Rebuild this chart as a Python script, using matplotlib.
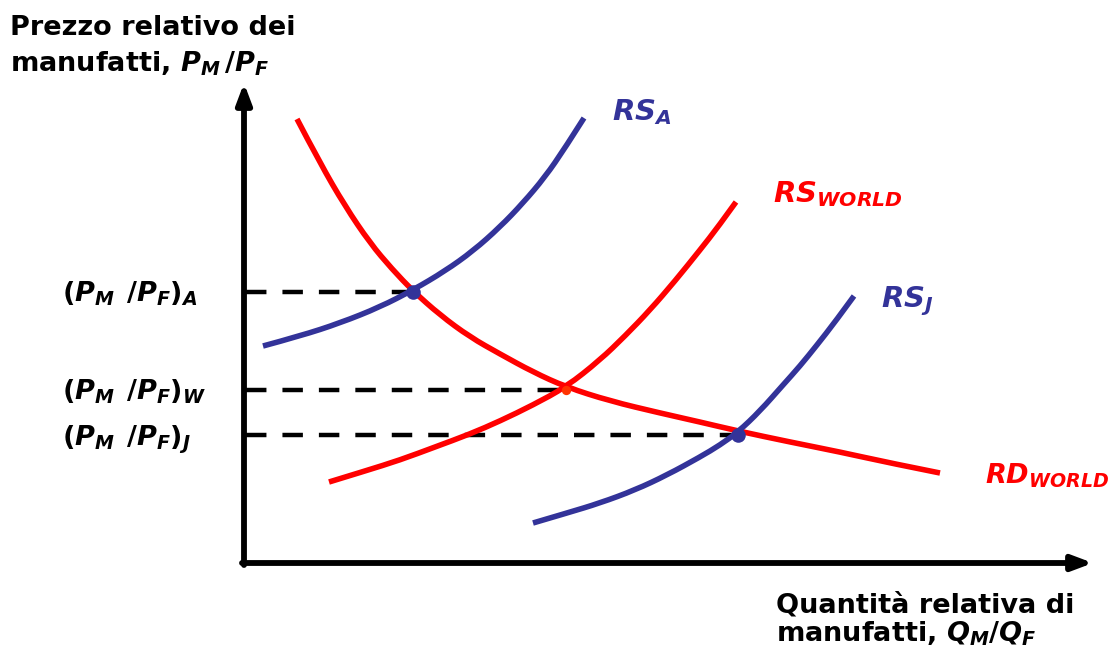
import matplotlib
matplotlib.use("Agg")
import matplotlib.pyplot as plt
from matplotlib.path import Path
from matplotlib.patches import PathPatch

plt.rcParams['font.family'] = ['DejaVu Sans']
plt.rcParams['mathtext.fontset'] = 'custom'
plt.rcParams['mathtext.rm'] = 'DejaVu Sans:bold'
plt.rcParams['mathtext.it'] = 'DejaVu Sans:bold:italic'
plt.rcParams['mathtext.bf'] = 'DejaVu Sans:bold'

# Curves (quantity, price) (image-like units)
rs_a_x = [263, 300, 340, 380, 413, 445, 473, 500, 523, 545, 565, 584]
rs_a_y = [346, 336, 323, 307, 290, 271, 251, 227, 203, 177, 148, 118]

rs_w_x = [329, 365, 400, 435, 470, 500, 533, 566, 600, 625, 650, 675, 700, 718, 736]
rs_w_y = [482, 471, 460, 447, 434, 421, 405, 387, 360, 336, 310, 281, 250, 227, 202]

rs_j_x = [533, 567, 600, 635, 667, 700, 720, 738, 760, 783, 800, 817, 835, 854]
rs_j_y = [523, 513, 503, 490, 475, 457, 445, 432, 411, 385, 366, 345, 322, 296]

rd_x = [297, 320, 345, 370, 392, 413, 440, 470, 500, 533, 566, 610, 660, 700, 738, 790, 840, 890, 940]
rd_y = [119, 163, 206, 243, 269, 291, 315, 337, 354, 372, 387, 401, 413, 422, 431, 442, 452, 463, 473]

# Equilibrium prices and quantities
eq_labels = ['A', 'W', 'J']
eq_price = [292, 390, 435]
eq_qty = [413, 566, 738]
dash_end = [428, 566, 742]

blue = '#333399'
red = '#FF0000'

fig = plt.figure(figsize=(11.19, 6.5), dpi=100)
ax = fig.add_axes([0, 0, 1, 1])
ax.set_xlim(0, 1119)
ax.set_ylim(650, 0)
ax.axis('off')


def smooth_curve(xs, ys, color, z):
    """Quadratic B-spline path on the read points, drawn by matplotlib."""
    pts = list(zip(xs, ys))
    verts = [pts[0]]
    codes = [Path.MOVETO]
    for i in range(1, len(pts) - 1):
        mid = ((pts[i][0] + pts[i + 1][0]) / 2, (pts[i][1] + pts[i + 1][1]) / 2)
        if i == len(pts) - 2:
            mid = pts[-1]
        verts += [pts[i], mid]
        codes += [Path.CURVE3, Path.CURVE3]
    patch = PathPatch(Path(verts, codes), facecolor='none', edgecolor=color,
                      lw=4.0, capstyle='butt', joinstyle='round', zorder=z)
    ax.add_patch(patch)


# axes with arrows
ax.annotate('', xy=(244, 83), xytext=(244, 565),
            arrowprops=dict(arrowstyle='-|>,head_length=1.2,head_width=0.45', lw=4.2, color='black',
                            shrinkA=0, shrinkB=0))
ax.annotate('', xy=(1093, 563), xytext=(242, 563),
            arrowprops=dict(arrowstyle='-|>,head_length=1.2,head_width=0.45', lw=4.2, color='black',
                            shrinkA=0, shrinkB=0))

# dashed lines
for p, e in zip(eq_price, dash_end):
    ax.plot([246, e], [p, p], color='black', lw=3.2, dashes=(4.6, 3.6), solid_capstyle='butt', zorder=2)

smooth_curve(rd_x, rd_y, red, 3)
smooth_curve(rs_w_x, rs_w_y, red, 3)
smooth_curve(rs_a_x, rs_a_y, blue, 4)
smooth_curve(rs_j_x, rs_j_y, blue, 4)

# equilibrium dots
ax.scatter([eq_qty[0], eq_qty[2]], [eq_price[0], eq_price[2]], s=110, color=blue, zorder=5, linewidths=0)
ax.scatter([eq_qty[1]], [eq_price[1]], s=45, color='#FF3300', zorder=5, linewidths=0)

fs = 19.5
# y-axis title
ax.text(10, 35, 'Prezzo relativo dei', fontsize=fs, fontweight='bold', va='baseline', ha='left')
ax.text(10, 72, r'manufatti, $P_M\,/P_F$', fontsize=fs, fontweight='bold', va='baseline', ha='left')

# x-axis title
ax.text(776, 613, 'Quantità relativa di', fontsize=fs, fontweight='bold', va='baseline', ha='left')
ax.text(776, 641, r'manufatti, $Q_M/Q_F$', fontsize=fs, fontweight='bold', va='baseline', ha='left')

# price labels
for lab, p in zip(eq_labels, eq_price):
    ax.text(62, p + 10, r'$(P_M\;\,/P_F)_%s$' % lab, fontsize=fs, va='baseline', ha='left')

# curve labels
fs2 = 21
ax.text(612, 120, r'$RS_A$', fontsize=fs2, color=blue, va='baseline', ha='left')
ax.text(773, 202, r'$RS_{WORLD}$', fontsize=fs2, color=red, va='baseline', ha='left')
ax.text(881, 307, r'$RS_J$', fontsize=fs2, color=blue, va='baseline', ha='left')
ax.text(985, 483, r'$RD_{WORLD}$', fontsize=19.5, color=red, va='baseline', ha='left')

fig.savefig('out.png', dpi=100)
